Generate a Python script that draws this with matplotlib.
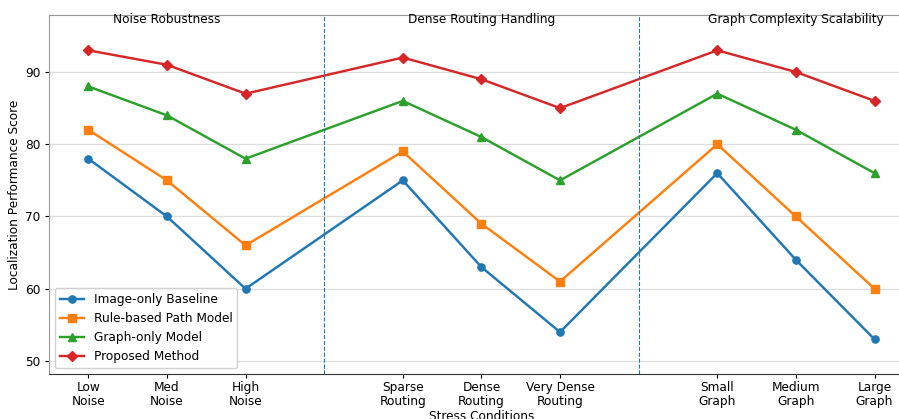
import numpy as np
import matplotlib.pyplot as plt

conditions = ['Low\nNoise', 'Med\nNoise', 'High\nNoise',
              'Sparse\nRouting', 'Dense\nRouting', 'Very Dense\nRouting',
              'Small\nGraph', 'Medium\nGraph', 'Large\nGraph']
x_pos = [0, 1, 2, 4, 5, 6, 8, 9, 10]

image_only = [78, 70, 60, 75, 63, 54, 76, 64, 53]
rule_based = [82, 75, 66, 79, 69, 61, 80, 70, 60]
graph_only = [88, 84, 78, 86, 81, 75, 87, 82, 76]
proposed = [93, 91, 87, 92, 89, 85, 93, 90, 86]

groups = ['Noise Robustness', 'Dense Routing Handling', 'Graph Complexity Scalability']
group_centers = [1, 5, 9]
separators = [3, 7]

fs = 8.7
plt.rcParams['xtick.major.size'] = 3
plt.rcParams['ytick.major.size'] = 3
plt.rcParams['xtick.major.pad'] = 2
plt.rcParams['ytick.major.pad'] = 3

fig = plt.figure(figsize=(8.99, 4.19), dpi=100)
ax = fig.add_axes([0.0545, 0.1074, 0.962, 0.857])

ax.plot(x_pos, image_only, '-o', color='#1f77b4', lw=1.75, ms=5.2, label='Image-only Baseline')
ax.plot(x_pos, rule_based, '-s', color='#ff7f0e', lw=1.75, ms=5.2, label='Rule-based Path Model')
ax.plot(x_pos, graph_only, '-^', color='#2ca02c', lw=1.75, ms=5.2, label='Graph-only Model')
ax.plot(x_pos, proposed, '-D', color='#d62728', lw=1.75, ms=5.2, label='Proposed Method')

for s in separators:
    ax.axvline(s, color='#1f77b4', ls='--', lw=0.8)

ax.set_xlim(-0.5, 10.5)
ax.set_ylim(48.2, 97.9)
for c, g in zip(group_centers, groups):
    ax.text(c, 97.3, g, ha='center', va='center', fontsize=fs)

ax.set_xticks(x_pos)
ax.set_xticklabels(conditions, fontsize=fs, linespacing=1.15)
ax.set_yticks([50, 60, 70, 80, 90])
ax.tick_params(axis='y', labelsize=fs)
ax.yaxis.grid(True, color='#dddddd', lw=0.9)
ax.set_axisbelow(True)
ax.set_xlabel('Stress Conditions', fontsize=fs, labelpad=1)
ax.set_ylabel('Localization Performance Score', fontsize=fs, labelpad=3)

for side in ['top', 'left']:
    ax.spines[side].set_color('#999999')
ax.spines['bottom'].set_color('#333333')
ax.spines['right'].set_visible(False)

ax.legend(loc='lower left', fontsize=fs, framealpha=0.9, borderaxespad=0.5)

fig.savefig('out.png', dpi=100)
